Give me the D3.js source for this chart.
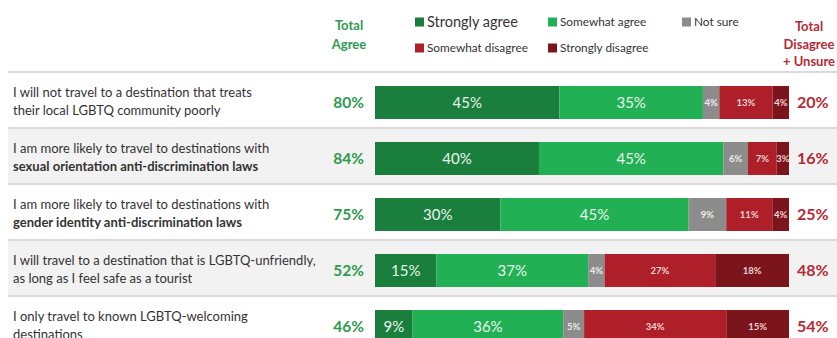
<!DOCTYPE html>
<html>
<head>
<meta charset="utf-8">
<script src="https://cdn.jsdelivr.net/npm/d3@7"></script>
<style>
  html, body { margin: 0; padding: 0; background: #fff; }
  svg { display: block; font-family: Lato, "Open Sans", sans-serif; }
</style>
</head>
<body>
<svg id="chart" width="837" height="338"></svg>
<script>
// Survey statements (two lines each; the second flag marks a bold line)
const statements = [
  ["I will not travel to a destination that treats", "their local LGBTQ community poorly"],
  ["I am more likely to travel to destinations with", "sexual orientation anti-discrimination laws"],
  ["I am more likely to travel to destinations with", "gender identity anti-discrimination laws"],
  ["I will travel to a destination that is LGBTQ-unfriendly,", "as long as I feel safe as a tourist"],
  ["I only travel to known LGBTQ-welcoming", "destinations"]
];
const boldSecondLine = [false, true, true, false, false];

const responses = ["Strongly agree", "Somewhat agree", "Not sure", "Somewhat disagree", "Strongly disagree"];

// Shares (%) per response, one array per statement
const stronglyAgree    = [45, 40, 30, 15, 9];
const somewhatAgree    = [35, 45, 45, 37, 36];
const notSure          = [4, 6, 9, 4, 5];
const somewhatDisagree = [13, 7, 11, 27, 34];
const stronglyDisagree = [4, 3, 4, 18, 15];

const totalAgree = [80, 84, 75, 52, 46];
const totalDisagreeUnsure = [20, 16, 25, 48, 54];

const colors = ["#1a7f3d", "#21b154", "#8c8c8c", "#ae1f29", "#7c141b"];

const svg = d3.select("#chart");
const W = 837;

const series = [stronglyAgree, somewhatAgree, notSure, somewhatDisagree, stronglyDisagree];

const y = d3.scaleBand().domain(d3.range(statements.length)).range([72, 72 + 56 * statements.length]);
const barX0 = 375, barX1 = 789, barOffset = 14, barH = 33;

// Alternating row shading
svg.selectAll("rect.rowbg").data(d3.range(statements.length).filter(i => i % 2 === 1))
  .enter().append("rect")
  .attr("x", 8).attr("width", W - 8)
  .attr("y", i => y(i)).attr("height", y.bandwidth())
  .attr("fill", "#f2f2f2");

// Row separators
svg.selectAll("line.sep").data(d3.range(statements.length + 1))
  .enter().append("line")
  .attr("x1", 8).attr("x2", W)
  .attr("y1", i => 72 + i * y.bandwidth()).attr("y2", i => 72 + i * y.bandwidth())
  .attr("stroke", "#d9d9d9").attr("stroke-width", 2);

// Statement labels
statements.forEach((lines, i) => {
  const g = svg.append("g");
  lines.forEach((t, j) => {
    g.append("text")
      .attr("x", 13).attr("y", y(i) + 24.5 + j * 18)
      .attr("font-size", 13)
      .attr("font-weight", j === 1 && boldSecondLine[i] ? 700 : 400)
      .attr("fill", "#333")
      .text(t);
  });
});

// Stacked bars, each row spans the full bar width
statements.forEach((_, i) => {
  const vals = series.map(s => s[i]);
  const sum = d3.sum(vals);
  const x = d3.scaleLinear().domain([0, sum]).range([barX0, barX1]);
  let acc = 0;
  const segs = vals.map((v, k) => { const s = { k, v, a: acc, b: acc + v }; acc += v; return s; });
  const g = svg.append("g");
  g.selectAll("rect").data(segs).enter().append("rect")
    .attr("x", d => x(d.a)).attr("width", d => x(d.b) - x(d.a))
    .attr("y", y(i) + barOffset).attr("height", barH)
    .attr("fill", d => colors[d.k]);
  g.selectAll("text").data(segs).enter().append("text")
    .attr("x", d => (x(d.a) + x(d.b)) / 2)
    .attr("y", y(i) + barOffset + barH / 2)
    .attr("dy", d => d.k < 2 ? "0.36em" : "0.35em")
    .attr("text-anchor", "middle")
    .attr("font-size", d => d.k < 2 ? 15 : 9.5)
    .attr("font-weight", d => d.k < 2 ? 400 : 700)
    .attr("fill", d => d.k < 2 ? "#eaf5ec" : (d.k === 2 ? "#eeeeee" : "#f0d4d6"))
    .text(d => d.v + "%");

  // Total agree (left) and total disagree + unsure (right)
  svg.append("text")
    .attr("x", 364).attr("y", y(i) + barOffset + barH / 2).attr("dy", "0.36em")
    .attr("text-anchor", "end").attr("font-size", 15.5).attr("font-weight", 700)
    .attr("fill", "#2e9a4f").text(totalAgree[i] + "%");
  svg.append("text")
    .attr("x", 797).attr("y", y(i) + barOffset + barH / 2).attr("dy", "0.36em")
    .attr("text-anchor", "start").attr("font-size", 16).attr("font-weight", 700)
    .attr("fill", "#b52a33").text(totalDisagreeUnsure[i] + "%");
});

// Column headers
[["Total", 30], ["Agree", 49]].forEach(([t, yy]) => {
  svg.append("text").attr("x", 349).attr("y", yy).attr("text-anchor", "middle")
    .attr("font-size", 13).attr("font-weight", 700).attr("fill", "#2e9a4f").text(t);
});
[["Total", 31], ["Disagree", 49], ["+ Unsure", 66]].forEach(([t, yy]) => {
  svg.append("text").attr("x", 809).attr("y", yy).attr("text-anchor", "middle")
    .attr("font-size", 13).attr("font-weight", 700).attr("fill", "#b52a33").text(t);
});

// Legend
const legendPos = [
  { x: 415, y: 22, size: 14.5 },
  { x: 548, y: 22, size: 11.8 },
  { x: 682, y: 22, size: 11.8 },
  { x: 415, y: 48, size: 11.8 },
  { x: 548, y: 48, size: 11.8 }
];
const lg = svg.append("g").selectAll("g").data(responses).enter().append("g")
  .attr("transform", (d, k) => `translate(${legendPos[k].x},${legendPos[k].y})`);
lg.append("rect").attr("x", 0).attr("y", -4.5).attr("width", 9).attr("height", 9)
  .attr("fill", (d, k) => colors[k]);
lg.append("text").attr("x", 12).attr("dy", "0.35em")
  .attr("font-size", (d, k) => legendPos[k].size).attr("fill", "#333").text(d => d);
</script>
</body>
</html>
